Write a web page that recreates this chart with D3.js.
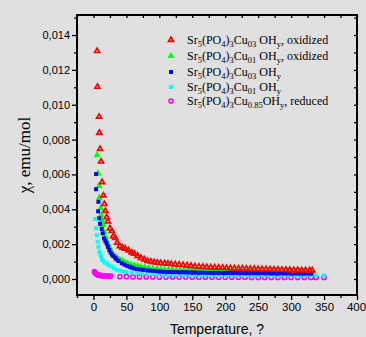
<!DOCTYPE html>
<html>
<head>
<meta charset="utf-8">
<script src="https://cdn.jsdelivr.net/npm/d3@7"></script>
<style>
  html, body { margin: 0; padding: 0; background: #e0e0e0; }
  svg { display: block; }
</style>
</head>
<body>
<div id="chart"></div>
<script>
// [T, chi] pairs
const redOxCu03 = [
  [5.5,0.01308],[6,0.01103],[8.5,0.00931],[9,0.00838],[10,0.00746],[11.5,0.00674],[13,0.00556],[15,0.00479],
  [16.5,0.0043],[18,0.0039],[20,0.00355],[22,0.0033],[25,0.0029],[28,0.00275],[30,0.00245],[33,0.00235],
  [36,0.00208],[40,0.00188],[44,0.0018],[48,0.00174],[53,0.00164],[58,0.00152],[62,0.00145],[67,0.00132],
  [72,0.0012],[77,0.00112],[82,0.00103],[87,0.001],[92,0.00096],[97,0.00093],[102,0.00091],[108,0.0009],
  [113,0.00088],[118,0.00086],[124,0.00084],[130,0.00082],[136,0.0008],[142,0.00078],[148,0.00075],
  [154,0.00073],[160,0.00071],[166,0.00069],[172,0.00068],[178,0.00067],[184,0.00066],[190,0.00065],
  [196,0.00064],[202,0.00063],[208,0.00062],[214,0.00061],[220,0.0006],[226,0.0006],[232,0.00059],
  [238,0.00058],[244,0.00058],[250,0.00057],[256,0.00056],[262,0.00056],[268,0.00055],[274,0.00054],
  [280,0.00054],[286,0.00053],[292,0.00052],[298,0.00052],[304,0.00051],[310,0.00051],[316,0.0005],
  [322,0.0005],[328,0.00049],[332,0.00049]
];
const greenOxCu01 = [
  [5.5,0.00711],[7,0.00606],[8.5,0.00534],[9,0.00466],[11,0.00406],[11.5,0.00367],[12.5,0.00338],[14,0.0031],
  [16,0.00271],[18,0.00243],[20,0.00214],[22,0.002],[24,0.00182],[27,0.00158],[30,0.00138],[33,0.00128],
  [36,0.00119],[40,0.0011],[44,0.00102],[48,0.00095],[52,0.0009],[57,0.00082],[62,0.00078],[67,0.00074],
  [72,0.0007],[78,0.00066],[84,0.00063],[90,0.0006],[96,0.00058],[102,0.00056],[108,0.00055],[114,0.00054],
  [120,0.00054],[126,0.00053],[132,0.00053],[138,0.00052],[144,0.00052],[150,0.00051],[156,0.00051],
  [162,0.0005],[168,0.0005],[174,0.0005],[180,0.00049],[186,0.00049],[192,0.00049],[198,0.00049],
  [204,0.00048],[210,0.00048],[216,0.00048],[222,0.00048],[228,0.00047],[234,0.00047],[240,0.00047],
  [246,0.00047],[252,0.00047],[258,0.00046],[264,0.00046],[270,0.00046],[276,0.00046],[282,0.00046],
  [288,0.00045],[294,0.00045],[300,0.00045],[306,0.00045],[312,0.00045],[318,0.00044],[324,0.00044],
  [330,0.00044]
];
const blueCu03 = [
  [4,0.00602],[4,0.00515],[7.5,0.00443],[7,0.00388],[8.5,0.00348],[10,0.00316],[12.5,0.00287],[14,0.00262],
  [16,0.00233],[18,0.0022],[20,0.00205],[22,0.00185],[24,0.00166],[26,0.00152],[28,0.00142],[30,0.00132],
  [33,0.00122],[35,0.00112],[38,0.00103],[43,0.0009],[47,0.00082],[51,0.00075],[55,0.0007],[58,0.00065],
  [62,0.0006],[66,0.00057],[71,0.00054],[76,0.00052],[82,0.00049],[87,0.00047],[92,0.00046],[97,0.00044],
  [102,0.00042],[107,0.00041],[112,0.0004],[117,0.0004],[122,0.00039],[127,0.00039],[132,0.00038],
  [137,0.00038],[142,0.00038],[147,0.00037],[152,0.00037],[157,0.00036],[162,0.00036],[167,0.00036],
  [172,0.00035],[177,0.00035],[182,0.00035],[187,0.00035],[192,0.00035],[197,0.00034],[202,0.00034],
  [207,0.00034],[212,0.00034],[217,0.00034],[222,0.00034],[227,0.00034],[232,0.00033],[237,0.00033],
  [242,0.00033],[247,0.00033],[252,0.00033],[257,0.00033],[262,0.00033],[267,0.00033],[272,0.00032],
  [277,0.00032],[282,0.00032],[287,0.00032],[292,0.00032],[297,0.00032],[302,0.00032],[307,0.00032],
  [312,0.00031],[317,0.00031],[322,0.00031],[327,0.00031],[331,0.00031]
];
const cyanCu01 = [
  [2.5,0.00344],[4,0.00291],[5,0.0025],[6.5,0.00214],[7.5,0.00185],[9,0.00157],[10.5,0.0014],[11.5,0.00128],
  [13,0.00109],[15,0.00105],[17,0.00095],[20,0.00088],[23,0.0008],[27,0.00072],[31,0.00062],[35,0.00053],
  [40,0.00048],[45,0.00043],[50,0.0004],[58,0.00037],[66,0.00034],[74,0.00031],[82,0.00029],[90,0.00027],
  [98,0.00026],[106,0.00025],[114,0.00025],[122,0.00024],[130,0.00024],[138,0.00024],[146,0.00023],
  [154,0.00023],[162,0.00023],[170,0.00023],[178,0.00023],[186,0.00022],[194,0.00022],[202,0.00022],
  [210,0.00022],[218,0.00022],[226,0.00022],[234,0.00022],[242,0.00021],[250,0.00021],[258,0.00021],
  [266,0.00021],[274,0.00021],[282,0.00021],[290,0.00021],[298,0.00021],[306,0.00021],[314,0.0002],
  [322,0.0002],[330,0.0002],[338,0.0002],[350,0.0002]
];
const magentaCu085 = [
  [1.5,0.00042],[2.5,0.00036],[3.5,0.00031],[5,0.00027],[6.5,0.00024],[8,0.00022],[10,0.0002],[12,0.00019],
  [14,0.00018],[16,0.00018],[18,0.00017],[20,0.00017],[23,0.00016],[26,0.00016],[40,0.00013],[50,0.00013],
  [60,0.00012],[70,0.00012],[80,0.00012],[90,0.00012],[100,0.00011],[110,0.00011],[120,0.00011],
  [130,0.00011],[140,0.00011],[150,0.0001],[160,0.0001],[170,0.0001],[180,0.0001],[190,0.0001],
  [200,0.0001],[210,0.0001],[220,0.0001],[230,0.0001],[240,0.00009],[250,0.00009],[260,0.00009],
  [270,0.00009],[280,0.00009],[290,0.00009],[300,0.00009],[310,0.00009],[320,0.00009],[330,0.00009],
  [338,0.00009],[350,0.00009]
];

const xMajor = [0, 50, 100, 150, 200, 250, 300, 350, 400];
const yMajor = [0, 0.002, 0.004, 0.006, 0.008, 0.010, 0.012, 0.014];

// legend text pieces: [text, isSubscript]
const legendLabels = {
  red:     [['Sr',0],['5',1],['(PO',0],['4',1],[')',0],['3',1],['Cu',0],['03',1],[' OH',0],['y',1],[', oxidized',0]],
  green:   [['Sr',0],['5',1],['(PO',0],['4',1],[')',0],['3',1],['Cu',0],['01',1],[' OH',0],['y',1],[', oxidized',0]],
  blue:    [['Sr',0],['5',1],['(PO',0],['4',1],[')',0],['3',1],['Cu',0],['03',1],[' OH',0],['y',1]],
  cyan:    [['Sr',0],['5',1],['(PO',0],['4',1],[')',0],['3',1],['Cu',0],['01',1],[' OH',0],['y',1]],
  magenta: [['Sr',0],['5',1],['(PO',0],['4',1],[')',0],['3',1],['Cu',0],['0.85',1],['OH',0],['y',1],[', reduced',0]]
};
const legendOrder = ['red', 'green', 'blue', 'cyan', 'magenta'];

const width = 366, height = 337;
const margin = { top: 15, right: 9, bottom: 42, left: 77 };

const svg = d3.select('#chart').append('svg')
  .attr('width', width).attr('height', height);
svg.append('rect').attr('width', width).attr('height', height).attr('fill', '#e0e0e0');

const x = d3.scaleLinear().domain([-25, 400]).range([margin.left, width - margin.right]);
const y = d3.scaleLinear().domain([-0.00092, 0.01515]).range([height - margin.bottom, margin.top]);

const commaFmt = d => d3.format('.3f')(d).replace('.', ',');

// series styles, drawn bottom to top
const series = {
  magenta: { data: magentaCu085, sym: d3.symbolCircle, size: 14, fill: 'none', stroke: '#ff00ff', sw: 1.5 },
  cyan:    { data: cyanCu01, sym: d3.symbolSquare, size: 16, fill: '#00ffff', stroke: 'none', sw: 0 },
  green:   { data: greenOxCu01, sym: d3.symbolTriangle, size: 22, fill: '#00ff00', stroke: 'none', sw: 0 },
  blue:    { data: blueCu03, sym: d3.symbolSquare, size: 16, fill: '#0000ff', stroke: 'none', sw: 0 },
  red:     { data: redOxCu03, sym: d3.symbolTriangle, size: 11, fill: 'none', stroke: '#ff0000', sw: 1.7 }
};

const plot = svg.append('g');
Object.values(series).forEach(s => {
  plot.selectAll(null).data(s.data).enter().append('path')
    .attr('d', d3.symbol(s.sym, s.size))
    .attr('transform', d => 'translate(' + x(d[0]) + ',' + y(d[1]) + ')')
    .attr('fill', s.fill).attr('stroke', s.stroke).attr('stroke-width', s.sw);
});

// axes
const x0 = margin.left, x1 = width - margin.right, y0 = height - margin.bottom, y1 = margin.top;
const xMinor = d3.range(-25, 401, 25).filter(v => xMajor.indexOf(v) < 0);
const yMinor = d3.range(-1, 16).map(v => v / 1000).filter(v => v > -0.00092 && v < 0.01515 && yMajor.every(m => Math.abs(m - v) > 1e-9));

const axisStyle = g => {
  g.select('.domain').remove();
  g.selectAll('line').attr('stroke', '#000').attr('stroke-width', 1.3);
  g.selectAll('text').attr('fill', '#000');
};

svg.append('g').attr('transform', 'translate(0,' + y0 + ')')
  .call(d3.axisBottom(x).tickValues(xMajor).tickSize(5).tickPadding(3))
  .call(axisStyle)
  .call(g => g.selectAll('text').style('font', '11.5px "Liberation Sans", Arial, sans-serif'))
  .call(g => g.selectAll('.tick:last-of-type text').attr('dx', -1));
svg.append('g').attr('transform', 'translate(0,' + y0 + ')')
  .call(d3.axisBottom(x).tickValues(xMinor).tickSize(3).tickFormat(''))
  .call(axisStyle);
svg.append('g').attr('transform', 'translate(' + x0 + ',0)')
  .call(d3.axisLeft(y).tickValues(yMajor).tickSize(5).tickPadding(2).tickFormat(commaFmt))
  .call(axisStyle)
  .call(g => g.selectAll('text').style('font', '11px "Liberation Sans", Arial, sans-serif'));
svg.append('g').attr('transform', 'translate(' + x0 + ',0)')
  .call(d3.axisLeft(y).tickValues(yMinor).tickSize(3).tickFormat(''))
  .call(axisStyle);
// top and right: inward ticks
svg.append('g').attr('transform', 'translate(0,' + y1 + ')')
  .call(d3.axisBottom(x).tickValues(xMajor.concat(xMinor)).tickSize(3).tickFormat(''))
  .call(axisStyle);
svg.append('g').attr('transform', 'translate(' + x1 + ',0)')
  .call(d3.axisLeft(y).tickValues(yMajor.concat(yMinor)).tickSize(3).tickFormat(''))
  .call(axisStyle);

svg.append('rect')
  .attr('x', x0).attr('y', y1).attr('width', x1 - x0).attr('height', y0 - y1)
  .attr('fill', 'none').attr('stroke', '#000').attr('stroke-width', 2);

// axis titles
svg.append('text')
  .attr('x', (x0 + x1) / 2).attr('y', 334)
  .attr('text-anchor', 'middle')
  .style('font', '14px "Liberation Sans", Arial, sans-serif')
  .text('Temperature, ?');
svg.append('text')
  .attr('transform', 'translate(30,' + ((y0 + y1) / 2) + ') rotate(-90)')
  .attr('text-anchor', 'middle')
  .style('font', '17px "Liberation Serif", "Times New Roman", serif')
  .text('χ, emu/mol');

// legend
const legendRowsY = [40, 56, 72, 87, 101];
const legend = svg.append('g');
legendOrder.forEach((key, i) => {
  const s = series[key];
  const ly = legendRowsY[i];
  legend.append('path')
    .attr('d', d3.symbol(s.sym, s.size))
    .attr('transform', 'translate(171,' + ly + ')')
    .attr('fill', s.fill).attr('stroke', s.stroke).attr('stroke-width', s.sw);
  const t = legend.append('text')
    .attr('x', 187).attr('y', ly + 4)
    .style('font', '12px "Liberation Serif", "Times New Roman", serif');
  let shifted = false;
  legendLabels[key].forEach(([str, sub]) => {
    const ts = t.append('tspan').text(str);
    if (sub) {
      ts.style('font-size', '8.5px');
      if (!shifted) { ts.attr('dy', 2.5); shifted = true; }
    } else if (shifted) {
      ts.attr('dy', -2.5); shifted = false;
    }
  });
});
</script>
</body>
</html>
